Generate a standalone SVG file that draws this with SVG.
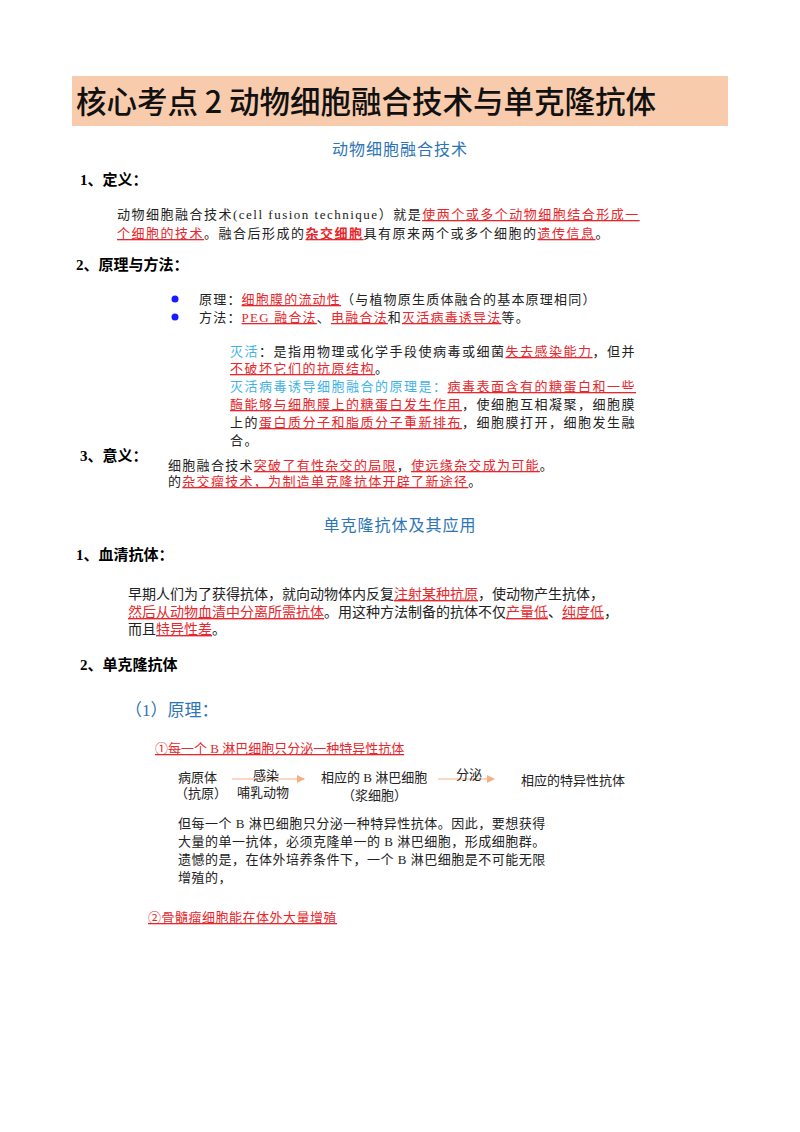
<svg xmlns="http://www.w3.org/2000/svg" width="800" height="1132" viewBox="0 0 800 1132">
<style>
text{font-family:"Liberation Serif","Noto Sans CJK SC",serif;fill:#222;}
.h{font-weight:bold;font-size:15px;fill:#000;}
.b{font-size:13px;}
.s{letter-spacing:1.5px;}
.r{fill:#e8262b;text-decoration:underline;}
.c{fill:#3fb3e8;}
.blue{fill:#2e75b6;font-size:16px;letter-spacing:1px;}
.p{font-size:14px;}
</style>
<defs><marker id="a" markerWidth="8" markerHeight="8" refX="7" refY="4" orient="auto"><path d="M0,0L8,4L0,8z" fill="#f4b183"/></marker></defs>
<rect x="72" y="76" width="656" height="50" fill="#f8cbad"/>
<text x="76" y="113" style="font-family:'Noto Sans CJK SC',sans-serif;font-size:30.5px;font-weight:500;fill:#111">核心考点 2 动物细胞融合技术与单克隆抗体</text>
<text x="400" y="155" text-anchor="middle" class="blue">动物细胞融合技术</text>
<text x="80" y="185" class="h">1、定义：</text>
<text x="117" y="219" class="b s">动物细胞融合技术(cell fusion technique）就是<tspan class="r">使两个或多个动物细胞结合形成一</tspan></text>
<text x="117" y="238" class="b s"><tspan class="r">个细胞的技术</tspan>。融合后形成的<tspan class="r" font-weight="bold">杂交细胞</tspan>具有原来两个或多个细胞的<tspan class="r">遗传信息</tspan>。</text>
<text x="76" y="270" class="h">2、原理与方法：</text>
<circle cx="175" cy="299" r="3.5" fill="#1a1aff"/>
<circle cx="175" cy="317" r="3.5" fill="#1a1aff"/>
<text x="199" y="304" class="b" letter-spacing="1.2">原理：<tspan class="r">细胞膜的流动性</tspan>（与植物原生质体融合的基本原理相同）</text>
<text x="199" y="322" class="b" letter-spacing="1.2">方法：<tspan class="r">PEG 融合法</tspan>、<tspan class="r">电融合法</tspan>和<tspan class="r">灭活病毒诱导法</tspan>等。</text>
<text x="230" y="356" class="b s"><tspan class="c">灭活</tspan>：是指用物理或化学手段使病毒或细菌<tspan class="r">失去感染能力</tspan>，但并</text>
<text x="230" y="373" class="b s"><tspan class="r">不破坏它们的抗原结构</tspan>。</text>
<text x="230" y="391" class="b s"><tspan class="c">灭活病毒诱导细胞融合的原理是：</tspan><tspan class="r">病毒表面含有的糖蛋白和一些</tspan></text>
<text x="230" y="409" class="b s"><tspan class="r">酶能够与细胞膜上的糖蛋白发生作用</tspan>，使细胞互相凝聚，细胞膜</text>
<text x="230" y="427" class="b s">上的<tspan class="r">蛋白质分子和脂质分子重新排布</tspan>，细胞膜打开，细胞发生融</text>
<text x="230" y="445" class="b s">合。</text>
<text x="80" y="461" class="h">3、意义：</text>
<text x="168" y="470" class="b" letter-spacing="1.3">细胞融合技术<tspan class="r">突破了有性杂交的局限</tspan>，<tspan class="r">使远缘杂交成为可能</tspan>。</text>
<text x="168" y="486" class="b" letter-spacing="1.3">的<tspan class="r">杂交瘤技术，为制造单克隆抗体开辟了新途径</tspan>。</text>
<text x="400" y="531" text-anchor="middle" class="blue">单克隆抗体及其应用</text>
<text x="76" y="560" class="h">1、血清抗体：</text>
<text x="128" y="599" class="p">早期人们为了获得抗体，就向动物体内反复<tspan class="r">注射某种抗原</tspan>，使动物产生抗体，</text>
<text x="128" y="617" class="p"><tspan class="r">然后从动物血清中分离所需抗体</tspan>。用这种方法制备的抗体不仅<tspan class="r">产量低</tspan>、<tspan class="r">纯度低</tspan>，</text>
<text x="128" y="634" class="p">而且<tspan class="r">特异性差</tspan>。</text>
<text x="80" y="670" class="h">2、单克隆抗体</text>
<text x="125" y="716" style="fill:#2e75b6;font-size:17px">（1）原理：</text>
<text x="155" y="753" class="b"><tspan class="r">①每一个 B 淋巴细胞只分泌一种特异性抗体</tspan></text>
<g id="connectors">
<line x1="232" y1="779" x2="304" y2="779" stroke="#f4b183" stroke-width="1" marker-end="url(#a)"/>
<line x1="438" y1="779" x2="494" y2="779" stroke="#f4b183" stroke-width="1" marker-end="url(#a)"/>
</g>
<g id="n1"><text x="178" y="782" class="b">病原体</text><text x="175" y="798" class="b">（抗原）</text></g>
<text x="253" y="780" class="b">感染</text>
<text x="237" y="797" class="b">哺乳动物</text>
<g id="n2"><text x="321" y="782" class="b">相应的 B 淋巴细胞</text><text x="342" y="800" class="b">（浆细胞）</text></g>
<text x="456" y="779" class="b">分泌</text>
<g id="n3"><text x="521" y="785" class="b">相应的特异性抗体</text></g>
<g letter-spacing="0.5">
<text x="178" y="828" class="b">但每一个 B 淋巴细胞只分泌一种特异性抗体。因此，要想获得</text>
<text x="178" y="846" class="b">大量的单一抗体，必须克隆单一的 B 淋巴细胞，形成细胞群。</text>
<text x="178" y="864" class="b">遗憾的是，在体外培养条件下，一个 B 淋巴细胞是不可能无限</text>
<text x="178" y="882" class="b">增殖的，</text>
</g>
<text x="148" y="922" class="b" letter-spacing="0.5"><tspan class="r">②骨髓瘤细胞能在体外大量增殖</tspan></text>
</svg>
